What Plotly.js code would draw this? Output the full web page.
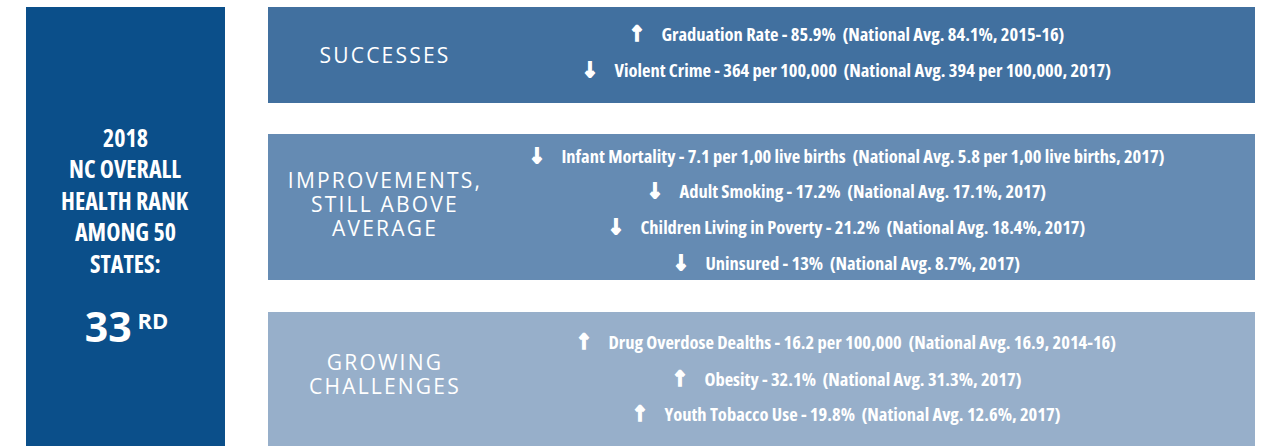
<!DOCTYPE html>
<html>
<head>
<meta charset="utf-8">
<script src="https://cdn.plot.ly/plotly-3.0.1.min.js"></script>
<style>
  html, body { margin: 0; padding: 0; background: #ffffff; }
  #chart { width: 1264px; height: 446px; }
</style>
</head>
<body>
<div id="chart"></div>
<script>
// ---- Data ----
const rankTitleLines = ["2018", "NC OVERALL", "HEALTH RANK", "AMONG 50", "STATES:"];
const rankNumber = "33";
const rankSuffix = "RD";

const groupNames = ["SUCCESSES", "IMPROVEMENTS, STILL ABOVE AVERAGE", "GROWING CHALLENGES"];
const groupLabelLines = [["SUCCESSES"], ["IMPROVEMENTS,", "STILL ABOVE", "AVERAGE"], ["GROWING", "CHALLENGES"]];

const metricGroup = [0, 0, 1, 1, 1, 1, 2, 2, 2];
const metricNames = ["Graduation Rate", "Violent Crime", "Infant Mortality", "Adult Smoking",
  "Children Living in Poverty", "Uninsured", "Drug Overdose Dealths", "Obesity", "Youth Tobacco Use"];
const metricValues = ["85.9%", "364 per 100,000", "7.1 per 1,00 live births", "17.2%",
  "21.2%", "13%", "16.2 per 100,000", "32.1%", "19.8%"];
const nationalAvgs = ["84.1%, 2015-16", "394 per 100,000, 2017", "5.8 per 1,00 live births, 2017",
  "17.1%, 2017", "18.4%, 2017", "8.7%, 2017", "16.9, 2014-16", "31.3%, 2017", "12.6%, 2017"];
const directions = ["up", "down", "down", "down", "down", "down", "up", "up", "up"];

// ---- Layout (pixel coordinates on a 1264x446 canvas) ----
const W = 1264, H = 446;
const groupColors = ["#41709f", "#658bb3", "#97afca"];
const boxes = [[7, 103], [134, 280], [312, 446]];
const boxX = [268, 1255];
const labelX = 385;
const labelCenters = [[55], [180, 204, 228], [362, 386]];
const itemX = 846;
const itemY = [33, 69, 155, 190, 226, 262, 341, 378, 413];

const shapes = [];
const annotations = [];

// left panel
shapes.push({type: "rect", xref: "x", yref: "y", x0: 26, x1: 225, y0: 7, y1: H,
  fillcolor: "#0b4f8a", line: {width: 0}, layer: "below"});
boxes.forEach((b, i) => {
  shapes.push({type: "rect", xref: "x", yref: "y", x0: boxX[0], x1: boxX[1], y0: b[0], y1: b[1],
    fillcolor: groupColors[i], line: {width: 0}, layer: "below"});
});

const sans = "'Open Sans', 'Noto Sans', sans-serif";
const wideIdx = [];   // annotations drawn at normal width

// group labels (letter spaced, regular weight)
const labelIdx = [];
groupLabelLines.forEach((lines, gi) => {
  lines.forEach((ln, li) => {
    labelIdx.push(annotations.length);
    annotations.push({x: labelX, y: labelCenters[gi][li], xref: "x", yref: "y", text: ln,
      showarrow: false, xanchor: "center", yanchor: "middle", width: 240, height: 22,
      font: {family: sans, size: 21, color: "#ffffff", weight: 400}});
  });
});

// rank panel
const rankY = [137, 168, 200, 231, 263];
rankTitleLines.forEach((t, i) => {
  annotations.push({x: 125, y: rankY[i], xref: "x", yref: "y", text: t, showarrow: false,
    xanchor: "center", yanchor: "middle",
    font: {family: sans, size: 24, color: "#ffffff", weight: 700}});
});
wideIdx.push(annotations.length);
annotations.push({x: 107.5, y: 326, xref: "x", yref: "y", text: rankNumber, showarrow: false,
  xanchor: "center", yanchor: "middle", font: {family: sans, size: 41, color: "#ffffff", weight: 700}});
wideIdx.push(annotations.length);
annotations.push({x: 152.5, y: 320, xref: "x", yref: "y", text: rankSuffix, showarrow: false,
  xanchor: "center", yanchor: "middle", font: {family: sans, size: 22, color: "#ffffff", weight: 700}});

// metric lines
const arrowGlyph = {up: "\u2191", down: "\u2193"};
metricNames.forEach((name, i) => {
  const arrow = "<span style='font-family:DejaVu Sans;font-weight:bold;font-size:21px;stroke:#ffffff;stroke-width:1.6px'>" +
    arrowGlyph[directions[i]] + "</span>";
  const txt = arrow + "\u00a0\u00a0\u00a0\u00a0\u00a0" + name + " - " + metricValues[i] +
    "\u00a0\u00a0(National Avg. " + nationalAvgs[i] + ")";
  annotations.push({x: itemX, y: itemY[i], xref: "x", yref: "y", text: txt, showarrow: false,
    xanchor: "center", yanchor: "middle", font: {family: sans, size: 18.5, color: "#ffffff", weight: 700}});
});

// CSS: condensed width for bold text, letter spacing for group labels
let css = ".annotation-text { font-stretch: 75%; }\n";
labelIdx.forEach(i => {
  css += "g.annotation[data-index='" + i + "'] text { font-stretch: 100%; letter-spacing: 2.2px; }\n";
});
wideIdx.forEach(i => {
  css += "g.annotation[data-index='" + i + "'] text { font-stretch: 100%; }\n";
});
const st = document.createElement("style");
st.textContent = css;
document.head.appendChild(st);

const layout = {
  width: W, height: H,
  margin: {l: 0, r: 0, t: 0, b: 0},
  paper_bgcolor: "#ffffff", plot_bgcolor: "#ffffff",
  xaxis: {range: [0, W], visible: false, fixedrange: true},
  yaxis: {range: [H, 0], visible: false, fixedrange: true},
  showlegend: false,
  shapes: shapes,
  annotations: annotations
};
Plotly.newPlot("chart", [], layout, {displayModeBar: false, staticPlot: true});
</script>
</body>
</html>
